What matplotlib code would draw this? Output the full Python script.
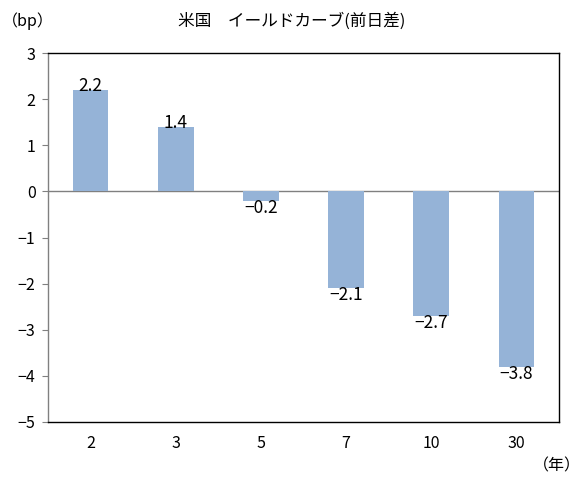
import matplotlib.pyplot as plt

plt.rcParams['font.family'] = ['Noto Sans CJK JP', 'DejaVu Sans']

# 米国イールドカーブ 前日差
maturities = ['2', '3', '5', '7', '10', '30']
changes = [2.2, 1.4, -0.2, -2.1, -2.7, -3.8]
value_labels = ['2.2', '1.4', '−0.2', '−2.1', '−2.7', '−3.8']

fig = plt.figure(figsize=(5.85, 4.79), dpi=100)
ax = fig.add_axes([48 / 585, 1 - 422 / 479, (559 - 48) / 585, (422 - 53) / 479])

x = range(len(maturities))
bars = ax.bar(x, changes, width=0.42, color='#95b3d7', zorder=2)

for i, (v, lab) in enumerate(zip(changes, value_labels)):
    if v >= 0:
        ax.text(i, v - 0.12, lab, ha='center', va='bottom', fontsize=12.5, zorder=3)
    else:
        ax.text(i, v + 0.04, lab, ha='center', va='top', fontsize=12.5, zorder=3)

ax.set_xlim(-0.5, len(maturities) - 0.5)
ax.set_ylim(-5, 3)
ax.set_yticks(range(-5, 4))
ax.set_yticklabels([str(t).replace('-', '−') for t in range(-5, 4)], fontsize=11.5)
ax.set_xticks(list(x))
ax.set_xticklabels(maturities, fontsize=11.5)
ax.tick_params(axis='x', length=0, pad=9)
ax.tick_params(axis='y', length=4, color='#808080', direction='out', pad=5)

ax.axhline(0, color='#808080', linewidth=1, zorder=1)
for side in ['top', 'right', 'bottom']:
    ax.spines[side].set_color('black')
    ax.spines[side].set_linewidth(1)
ax.spines['left'].set_color('#808080')
ax.spines['left'].set_linewidth(1)

fig.text(292 / 585, 1 - 21 / 479, '米国　イールドカーブ(前日差)', ha='center', va='center', fontsize=12)
fig.text(28 / 585, 1 - 21 / 479, '（bp）', ha='center', va='center', fontsize=11.5)
fig.text(557 / 585, 1 - 466 / 479, '（年）', ha='center', va='center', fontsize=11.5)

fig.savefig('out.png', dpi=100)
